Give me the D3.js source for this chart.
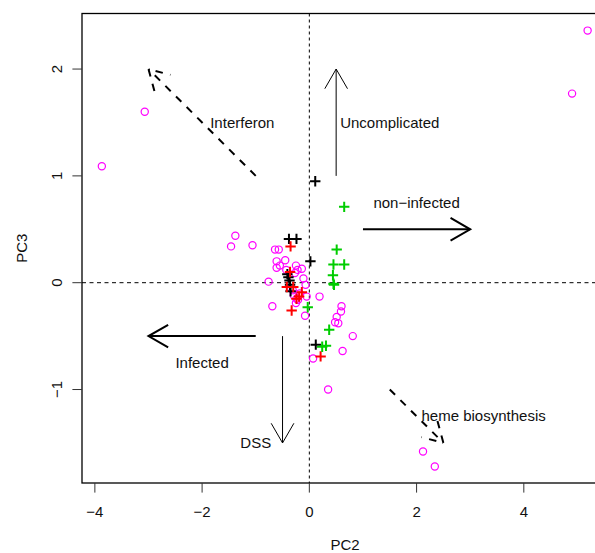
<!DOCTYPE html>
<html>
<head>
<meta charset="utf-8">
<script src="https://cdn.jsdelivr.net/npm/d3@7"></script>
<style>
  body { margin: 0; background: #fff; }
  text { font-family: "Liberation Sans", Arial, sans-serif; font-size: 15px; fill: #111; }
</style>
</head>
<body>
<div id="plot"></div>
<script>
// PCA biplot-style scatter: PC2 vs PC3 with direction arrows

var xTicks = [-4, -2, 0, 2, 4];
var yTicks = [-1, 0, 1, 2];

// magenta circles
var otherPts = [[5.19,2.36],[4.90,1.77],[-3.07,1.60],[-3.87,1.09],
  [-1.38,0.44],[-1.46,0.34],[-1.06,0.35],[-0.64,0.31],[-0.57,0.31],[-0.45,0.21],
  [-0.61,0.20],[-0.55,0.16],[-0.61,0.14],[-0.25,0.16],[-0.22,0.12],[-0.14,0.13],
  [-0.27,0.09],[-0.11,0.04],[-0.76,0.01],[-0.07,-0.02],[-0.31,-0.07],[-0.05,-0.13],
  [-0.24,-0.15],[-0.21,-0.16],[-0.25,-0.19],[0.19,-0.13],[-0.69,-0.22],[-0.08,-0.31],
  [-0.29,-0.12],[-0.18,-0.10],[-0.43,0.12],
  [0.60,-0.22],[0.59,-0.27],[0.51,-0.32],[0.48,-0.37],[0.54,-0.38],[0.81,-0.50],
  [0.62,-0.64],[0.07,-0.71],[0.35,-1.00],[2.12,-1.58],[2.34,-1.72]];

var blackPts = [[0.11,0.95],[-0.38,0.41],[-0.24,0.41],[0.02,0.20],[-0.41,0.08],
  [-0.39,0.05],[-0.37,0.02],[-0.36,-0.02],[-0.35,-0.08],[0.12,-0.58]];

var redPts = [[-0.35,0.34],[-0.36,0.10],[-0.42,-0.04],[-0.30,-0.04],[-0.14,-0.09],
  [-0.19,-0.13],[-0.24,-0.15],[-0.33,-0.26],[0.21,-0.69]];

var greenPts = [[0.65,0.71],[0.51,0.31],[0.45,0.17],[0.65,0.17],[0.44,0.07],
  [0.46,-0.02],[0.45,-0.01],[-0.03,-0.23],[0.37,-0.44],[0.24,-0.60],[0.31,-0.59]];

// arrows: from (x0,y0) to (x1,y1)
var arrows = [
  {name: "Interferon",    x0: -1,  y0: 1,    x1: -3,  y1: 2},
  {name: "Uncomplicated", x0: 0.5, y0: 1,    x1: 0.5, y1: 2},
  {name: "non-infected",  x0: 1,   y0: 0.5,  x1: 3,   y1: 0.5},
  {name: "Infected",      x0: -1,  y0: -0.5, x1: -3,  y1: -0.5},
  {name: "DSS",           x0: -0.5,y0: -0.5, x1: -0.5,y1: -1.5},
  {name: "heme",          x0: 1.5, y0: -1,   x1: 2.5, y1: -1.5}
];

var labels = [
  {text: "Interferon",        x: -1.25, y: 1.5},
  {text: "Uncomplicated",     x: 1.5,   y: 1.5},
  {text: "non\u2212infected", x: 2,     y: 0.75},
  {text: "Infected",          x: -2,    y: -0.75},
  {text: "DSS",               x: -1,    y: -1.5},
  {text: "heme biosynthesis", x: 3.25,  y: -1.25}
];

var width = 595, height = 553;
var box = {left: 82, right: 608, top: 13.5, bottom: 483};

var svg = d3.select("#plot").append("svg")
    .attr("width", width)
    .attr("height", height);

var x = d3.scaleLinear().domain([-4.24, 5.57]).range([box.left, box.right]);
var y = d3.scaleLinear().domain([-1.875, 2.52]).range([box.bottom, box.top]);

// reference lines at 0
svg.append("line")
    .attr("x1", x(0)).attr("x2", x(0))
    .attr("y1", box.top).attr("y2", box.bottom)
    .attr("stroke", "#000").attr("stroke-width", 1)
    .attr("stroke-dasharray", "3,3");
svg.append("line")
    .attr("x1", box.left).attr("x2", box.right)
    .attr("y1", y(0)).attr("y2", y(0))
    .attr("stroke", "#000").attr("stroke-width", 1)
    .attr("stroke-dasharray", "4,3.5");

// arrows
var headLen = 22.7, headAng = Math.PI / 6;
var thick = {"non-infected": 2, "Infected": 2, "Interferon": 2, "heme": 2};
var dashed = {"Interferon": true, "heme": true};

arrows.forEach(function(a) {
    var px0 = x(a.x0), py0 = y(a.y0), px1 = x(a.x1), py1 = y(a.y1);
    var ang = Math.atan2(py0 - py1, px0 - px1);
    var h1 = [px1 + headLen * Math.cos(ang + headAng), py1 + headLen * Math.sin(ang + headAng)];
    var h2 = [px1 + headLen * Math.cos(ang - headAng), py1 + headLen * Math.sin(ang - headAng)];
    var g = svg.append("g")
        .attr("stroke", "#000")
        .attr("fill", "none")
        .attr("stroke-width", thick[a.name] || 1)
        .attr("stroke-dasharray", dashed[a.name] ? "7.5,7.5" : null);
    g.append("line").attr("x1", px0).attr("y1", py0).attr("x2", px1).attr("y2", py1);
    g.append("path").attr("d", "M" + h1 + "L" + [px1, py1] + "L" + h2);
});

svg.selectAll(".lab").data(labels).enter().append("text")
    .attr("class", "lab")
    .attr("x", d => x(d.x))
    .attr("y", d => y(d.y))
    .attr("dy", "0.35em")
    .attr("text-anchor", "middle")
    .text(d => d.text);

// points
svg.selectAll(".circ").data(otherPts).enter().append("circle")
    .attr("class", "circ")
    .attr("cx", d => x(d[0]))
    .attr("cy", d => y(d[1]))
    .attr("r", 3.6)
    .attr("fill", "none")
    .attr("stroke", "#ff00ff")
    .attr("stroke-width", 1.2);

function drawPlus(pts, col) {
    var s = 5.2;
    svg.append("g").selectAll("path").data(pts).enter().append("path")
        .attr("d", d => {
            var cx = x(d[0]), cy = y(d[1]);
            return "M" + (cx - s) + "," + cy + "H" + (cx + s) + "M" + cx + "," + (cy - s) + "V" + (cy + s);
        })
        .attr("stroke", col)
        .attr("stroke-width", 2)
        .attr("fill", "none");
}
drawPlus(blackPts, "#000");
drawPlus(redPts, "#ff0000");
drawPlus(greenPts, "#00cd00");

// box
svg.append("rect")
    .attr("x", box.left).attr("y", box.top)
    .attr("width", box.right - box.left)
    .attr("height", box.bottom - box.top)
    .attr("fill", "none").attr("stroke", "#000").attr("stroke-width", 1.3);

// axes ticks
svg.selectAll(".xt").data(xTicks).enter().append("line")
    .attr("x1", d => x(d)).attr("x2", d => x(d))
    .attr("y1", box.bottom).attr("y2", box.bottom + 9.6)
    .attr("stroke", "#333").attr("stroke-width", 1);
svg.selectAll(".xl").data(xTicks).enter().append("text")
    .attr("x", d => x(d)).attr("y", 516.5)
    .attr("text-anchor", "middle")
    .text(d => d < 0 ? "\u2212" + Math.abs(d) : d);

svg.selectAll(".yt").data(yTicks).enter().append("line")
    .attr("x1", box.left - 9.6).attr("x2", box.left)
    .attr("y1", d => y(d)).attr("y2", d => y(d))
    .attr("stroke", "#333").attr("stroke-width", 1);
svg.selectAll(".yl").data(yTicks).enter().append("text")
    .attr("transform", d => "translate(62," + y(d) + ") rotate(-90)")
    .attr("text-anchor", "middle")
    .text(d => d < 0 ? "\u2212" + Math.abs(d) : d);

svg.append("text")
    .attr("x", (box.left + box.right) / 2).attr("y", 549.5)
    .attr("text-anchor", "middle")
    .text("PC2");
svg.append("text")
    .attr("transform", "translate(27," + (box.top + box.bottom) / 2 + ") rotate(-90)")
    .attr("text-anchor", "middle")
    .text("PC3");
</script>
</body>
</html>
